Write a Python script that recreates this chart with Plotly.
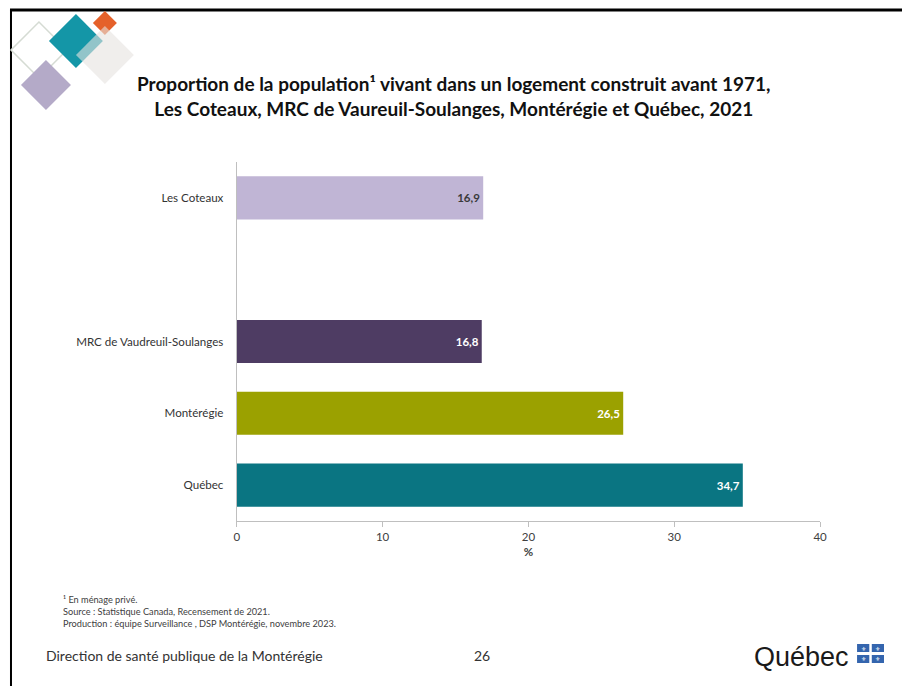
import plotly.graph_objects as go

# ---- data ----
categories = ["Les Coteaux", "MRC de Vaudreuil-Soulanges", "Montérégie", "Québec"]
values = [16.9, 16.8, 26.5, 34.7]
bar_colors = ["#C0B5D5", "#4E3C63", "#9BA100", "#0A7582"]
label_colors = ["#3A3A3A", "#FFFFFF", "#FFFFFF", "#FFFFFF"]
spacer = " "
category_order = ["Québec", "Montérégie", "MRC de Vaudreuil-Soulanges", spacer, "Les Coteaux"]
x_ticks = [0, 10, 20, 30, 40]

title_lines = [
    "Proportion de la population¹ vivant dans un logement construit avant 1971,",
    "Les Coteaux, MRC de Vaureuil-Soulanges, Montérégie et Québec, 2021",
]
footnotes = [
    "¹ En ménage privé.",
    "Source : Statistique Canada, Recensement de 2021.",
    "Production : équipe Surveillance , DSP Montérégie, novembre 2023.",
]
footer_left = "Direction de santé publique de la Montérégie"
page_number = "26"

REF_W, H = 902, 686
W = 911
FONT = "Lato"


def X(px):
    return px / REF_W


def Y(py):
    return 1 - py / H


fig = go.Figure()
fig.add_trace(go.Bar(
    y=categories,
    x=values,
    orientation="h",
    marker=dict(color=bar_colors, line=dict(width=0)),
    width=0.6,
    text=[f"{v:.1f}".replace(".", ",") for v in values],
    textposition="inside",
    insidetextanchor="end",
    textfont=dict(family=FONT, size=11.5, color=label_colors, weight="bold"),
    hoverinfo="skip",
    cliponaxis=False,
))

shapes = []
annotations = []

# border lines of the slide
shapes.append(dict(type="line", xref="paper", yref="paper", x0=X(7), x1=X(902), y0=Y(10), y1=Y(10),
                   line=dict(color="#000000", width=3)))
shapes.append(dict(type="line", xref="paper", yref="paper", x0=X(8), x1=X(8), y0=Y(10), y1=Y(686),
                   line=dict(color="#000000", width=2)))


def diamond(cx, cy, r, fill=None, line=None, opacity=1.0):
    path = (f"M {X(cx)} {Y(cy - r)} L {X(cx + r)} {Y(cy)} L {X(cx)} {Y(cy + r)} "
            f"L {X(cx - r)} {Y(cy)} Z")
    d = dict(type="path", xref="paper", yref="paper", path=path, opacity=opacity, layer="above")
    if fill:
        d["fillcolor"] = fill
        d["line"] = dict(width=0)
    else:
        d["fillcolor"] = "rgba(0,0,0,0)"
        d["line"] = line
    return d


# logo diamonds
shapes.append(diamond(36, 50, 28, line=dict(color="#D5DBD3", width=1.5)))
shapes.append(diamond(43, 85, 25, fill="#B4AAC8"))
shapes.append(diamond(73, 41, 27, fill="#1496A7"))
shapes.append(diamond(102, 23, 12, fill="#E5612A"))
shapes.append(diamond(102, 55, 29, fill="#E6E2E0", opacity=0.6))

# Québec logo flag
shapes.append(dict(type="rect", xref="paper", yref="paper", x0=X(855), x1=X(882),
                   y0=Y(644), y1=Y(663), fillcolor="#3465AE", line=dict(width=0)))
shapes.append(dict(type="line", xref="paper", yref="paper", x0=X(868.5), x1=X(868.5),
                   y0=Y(644), y1=Y(663), line=dict(color="#FFFFFF", width=2.5)))
shapes.append(dict(type="line", xref="paper", yref="paper", x0=X(855), x1=X(882),
                   y0=Y(653.5), y1=Y(653.5), line=dict(color="#FFFFFF", width=3)))
for (qx, qy) in [(861.5, 648.5), (875.5, 648.5), (861.5, 658.5), (875.5, 658.5)]:
    annotations.append(dict(x=X(qx), y=Y(qy), xref="paper", yref="paper", text="⚜",
                            showarrow=False, font=dict(family="DejaVu Sans", size=6, color="#FFFFFF"),
                            xanchor="center", yanchor="middle"))

annotations.append(dict(x=X(849), y=Y(657), xref="paper", yref="paper", text="Québec",
                        showarrow=False, font=dict(family="Liberation Sans", size=27, color="#1A1A1A"),
                        xanchor="right", yanchor="middle"))

# title
annotations.append(dict(x=X(452), y=Y(96), xref="paper", yref="paper",
                        text="<b>" + "<br>".join(title_lines) + "</b>",
                        showarrow=False, align="center",
                        font=dict(family=FONT, size=19, color="#111111"),
                        xanchor="center", yanchor="middle"))

# footnotes
for i, t in enumerate(footnotes):
    annotations.append(dict(x=X(58), y=Y(599 + 12 * i), xref="paper", yref="paper", text=t,
                            showarrow=False, font=dict(family=FONT, size=9.2, color="#404040"),
                            xanchor="left", yanchor="middle"))

annotations.append(dict(x=X(41), y=Y(655), xref="paper", yref="paper", text=footer_left,
                        showarrow=False, font=dict(family=FONT, size=14, color="#333333"),
                        xanchor="left", yanchor="middle"))
annotations.append(dict(x=X(480), y=Y(655), xref="paper", yref="paper", text=page_number,
                        showarrow=False, font=dict(family=FONT, size=14, color="#333333"),
                        xanchor="center", yanchor="middle"))

fig.update_layout(
    width=W, height=H, autosize=False,
    margin=dict(l=0, r=0, t=0, b=0),
    paper_bgcolor="#FFFFFF", plot_bgcolor="#FFFFFF",
    showlegend=False,
    shapes=shapes,
    annotations=annotations,
    xaxis=dict(
        domain=[X(234), X(818)],
        range=[0, 40], tickvals=x_ticks, ticktext=[str(t) for t in x_ticks],
        showgrid=False, zeroline=False,
        showline=True, linecolor="#BFBFBF", linewidth=1,
        ticks="outside", ticklen=5, tickcolor="#BFBFBF",
        tickfont=dict(family=FONT, size=11.5, color="#404040"),
        title=dict(text="<b>%</b>", font=dict(family=FONT, size=11.5, color="#404040"), standoff=6),
        fixedrange=True,
    ),
    yaxis=dict(
        domain=[Y(521), Y(162)],
        type="category", categoryorder="array", categoryarray=category_order,
        range=[-0.5, 4.5],
        showgrid=False, zeroline=False,
        showline=True, linecolor="#BFBFBF", linewidth=1,
        ticks="", ticklabelstandoff=10,
        tickfont=dict(family=FONT, size=11.6, color="#333333"),
        fixedrange=True,
    ),
    font=dict(family=FONT),
)

fig.write_html("out.html", config={"displayModeBar": False, "responsive": False})

with open("out.html", "r", encoding="utf-8") as f:
    html = f.read()
css = "<style>html,body{margin:0;padding:0;overflow:hidden;}</style>"
if "<head>" in html:
    html = html.replace("<head>", "<head>" + css, 1)
else:
    html = css + html
with open("out.html", "w", encoding="utf-8") as f:
    f.write(html)
